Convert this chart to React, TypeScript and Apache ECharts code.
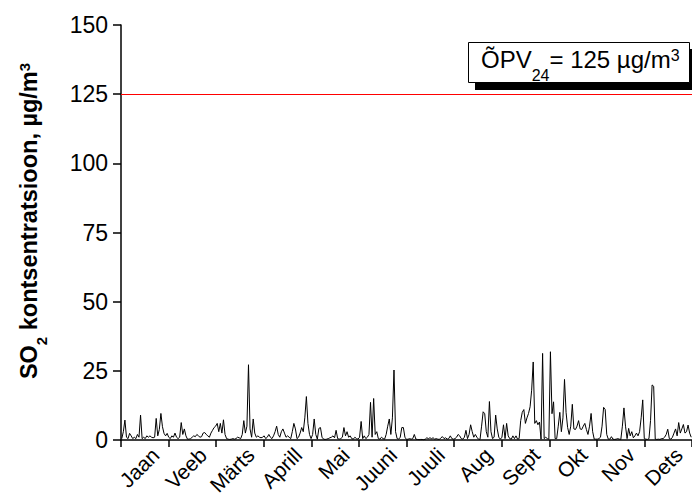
import React, { useEffect, useRef } from "react";
import * as echarts from "echarts";

const months = ["Jaan", "Veeb", "Märts", "Aprill", "Mai", "Juuni", "Juuli", "Aug", "Sept", "Okt", "Nov", "Dets"];
const yTicks = { min: 0, max: 150, interval: 25 };
const limitValue = 125;

// daily SO2 24h concentrations, µg/m3
const jan = [0.5, 3, 7.2, 1, 0.5, 2.4, 1.5, 0.5, 1, 0.5, 2, 1, 9, 0.5, 1, 0.5, 1.5, 1, 1.5, 1, 0.8, 1, 7.8, 1.5, 3.8, 9.6, 4.8, 2.4, 1.5, 2.4, 1];
const feb = [0.5, 1.5, 1, 2.5, 1, 0.5, 1, 6.3, 2, 4, 1.5, 0.3, 0.3, 0.5, 1, 1.5, 1.2, 2, 1.5, 1, 1.2, 2.5, 2.7, 2, 1.5, 1, 2.5, 3.5];
const mar = [4.5, 5, 6, 3, 6, 2.5, 7.3, 2, 0.5, 0.3, 0.2, 0.3, 0.5, 0.3, 0.5, 1, 0.8, 0.5, 2, 7, 2.5, 5, 27.2, 4, 1, 7.6, 2.5, 1, 1.5, 1, 0.8];
const apr = [1, 1.5, 0.5, 1, 2, 1, 0.5, 1.5, 3, 5, 2, 1, 3, 4, 2.5, 1, 1.5, 1, 0.5, 3, 6, 4, 0.5, 1, 2.5, 4.5, 3, 8, 15.7, 6];
const may = [2, 0.5, 2, 7.6, 2, 0.3, 4.2, 4.5, 1, 0.3, 0.2, 0.3, 0.5, 0.8, 1, 1.5, 0.8, 3.5, 0.5, 0.3, 0.5, 1, 4.5, 1.5, 3, 1, 1.5, 0.5, 0.3, 1, 0.5];
const jun = [0.3, 1, 6.7, 0.5, 1.5, 0.5, 1, 2, 13.6, 1, 15, 2, 3, 0.5, 0.3, 1, 0.5, 0.3, 2, 5, 7.6, 2, 8, 25.3, 3, 0.5, 0.3, 1, 4.5, 4.5];
const jul = [1, 0.2, 0.3, 0.5, 0.3, 0.5, 2, 0.3, 0.2, 0.1, 0.2, 0.2, 0.1, 0.3, 0.8, 0.5, 0.8, 0.5, 0.8, 0.3, 0.5, 0.3, 0.2, 0.8, 1.2, 0.5, 0.8, 0.3, 0.5, 1.5, 0.5];
const aug = [0.3, 0.5, 1, 2, 1.5, 0.5, 0.3, 1, 3.5, 0.5, 2, 5.5, 3, 1, 2, 1, 0.3, 0.2, 5, 10.2, 9.5, 3, 1, 13.9, 3, 0.5, 1, 9, 4, 1, 0.3];
const sep = [1, 5.5, 0.5, 6, 1.5, 0.5, 0.3, 1.5, 0.5, 1.5, 0.3, 0.5, 7, 10, 11, 6, 8, 9.6, 12, 18, 28.2, 6, 7, 5.5, 6.5, 0.3, 31.3, 0.5, 1, 0.5];
const oct = [0.3, 31.9, 9.5, 13.8, 0.5, 0.5, 5, 10, 3, 8, 21.9, 10, 4.5, 2, 5, 12.9, 4, 3.8, 5, 7, 4, 3.8, 5, 6, 3.8, 2, 5, 9.6, 3, 0.3, 0.3];
const nov = [0.3, 0.5, 1, 5, 11.8, 11, 2, 0.3, 0.3, 1.2, 0.3, 0.2, 0.3, 0.5, 0.3, 0.2, 5, 11.6, 5, 0.5, 4.2, 1.5, 3, 0.8, 1.5, 2.5, 1.5, 3, 8, 14.5];
const dec = [0.5, 0.3, 0.2, 0.5, 7, 19.9, 19.4, 0.3, 0.2, 0.3, 0.2, 0.5, 0.5, 1, 2, 3.9, 0.5, 0.3, 1, 2.5, 4, 1.5, 6.3, 2.5, 4, 5.6, 2.5, 3, 5.4, 2.5, 1];

const daily = [...jan, ...feb, ...mar, ...apr, ...may, ...jun, ...jul, ...aug, ...sep, ...oct, ...nov, ...dec];

const FONT = "'Liberation Sans', Arial, sans-serif";

export default function App() {
  const ref = useRef<HTMLDivElement>(null);
  useEffect(() => {
    if (!ref.current) return;
    const chart = echarts.init(ref.current, null, { renderer: "svg" });
    const nDays = daily.length;
    const pts = daily.map((v, i) => [i + 0.5, v]);
    chart.setOption({
      animation: false,
      backgroundColor: "#ffffff",
      grid: { left: 121, right: 0, top: 25, bottom: 56, containLabel: false, outerBoundsMode: "none" },
      xAxis: [
        {
          type: "category",
          data: months,
          boundaryGap: true,
          axisLine: { lineStyle: { color: "#000", width: 1.5 } },
          axisTick: { show: true, inside: false, length: 7, lineStyle: { color: "#000", width: 1.5 } },
          axisLabel: {
            rotate: 45,
            color: "#000",
            fontSize: 21,
            fontFamily: FONT,
            margin: 22,
            interval: 0,
            padding: [0, -15, 0, 0],
          },
          splitLine: { show: false },
        },
        { type: "value", min: 0, max: nDays, show: false },
      ],
      yAxis: {
        type: "value",
        min: yTicks.min,
        max: yTicks.max,
        interval: yTicks.interval,
        axisLine: { show: true, lineStyle: { color: "#000", width: 1.5 } },
        axisTick: { show: true, inside: false, length: 8, lineStyle: { color: "#000", width: 1.5 } },
        axisLabel: { color: "#000", fontSize: 23, fontFamily: FONT, margin: 13 },
        splitLine: { show: false },
      },
      series: [
        {
          type: "line",
          xAxisIndex: 1,
          yAxisIndex: 0,
          data: pts,
          showSymbol: false,
          symbol: "none",
          lineStyle: { color: "#000", width: 1 },
          z: 3,
          markLine: {
            silent: true,
            symbol: "none",
            label: { show: false },
            lineStyle: { color: "#ff0000", width: 1.2, type: "solid" },
            data: [{ yAxis: limitValue }],
          },
        },
      ],
      graphic: [
        {
          type: "text",
          x: 29,
          y: 221,
          rotation: Math.PI / 2,
          style: {
            text: "{a|SO}{s|2}{a| kontsentratsioon, µg/m}{p|3}",
            align: "center",
            verticalAlign: "middle",
            rich: {
              a: { fontSize: 23.5, fontWeight: "bold", fontFamily: FONT, lineHeight: 40, verticalAlign: "middle", fill: "#000" },
              s: { fontSize: 15, fontWeight: "bold", fontFamily: FONT, lineHeight: 15, verticalAlign: "bottom", fill: "#000" },
              p: { fontSize: 15, fontWeight: "bold", fontFamily: FONT, verticalAlign: "middle", padding: [0, 0, 9, 0], fill: "#000" },
            },
          },
        },
        { type: "rect", shape: { x: 475, y: 49, width: 230, height: 41 }, style: { fill: "#000" }, z: 10 },
        { type: "rect", shape: { x: 468.5, y: 42.5, width: 221, height: 40 }, style: { fill: "#fff", stroke: "#000", lineWidth: 1 }, z: 11 },
        {
          type: "text",
          x: 481,
          y: 59,
          z: 12,
          style: {
            text: "{a|ÕPV}{s|24}{a|= 125 µg/m}{p|3}",
            align: "left",
            verticalAlign: "middle",
            rich: {
              a: { fontSize: 24, fontFamily: FONT, lineHeight: 48, verticalAlign: "middle", fill: "#000" },
              s: { fontSize: 16, fontFamily: FONT, lineHeight: 16, verticalAlign: "bottom", fill: "#000" },
              p: { fontSize: 16, fontFamily: FONT, verticalAlign: "middle", padding: [0, 0, 7, 0], fill: "#000" },
            },
          },
        },
      ],
    });
    return () => chart.dispose();
  }, []);
  return <div ref={ref} style={{ position: "fixed", left: 0, top: 0, width: 692, height: 496 }} />;
}
